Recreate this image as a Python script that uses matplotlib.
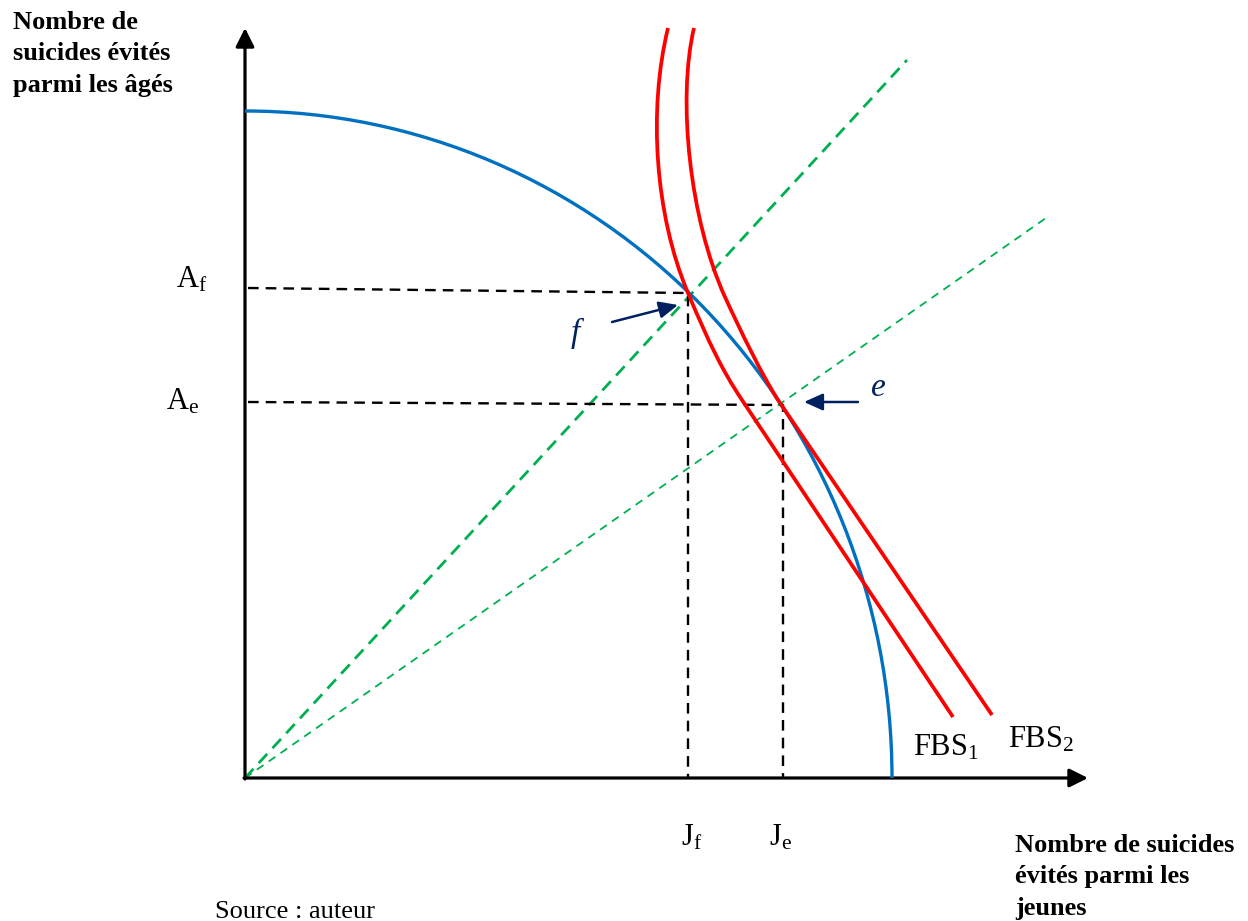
import matplotlib
matplotlib.use("Agg")
import matplotlib.pyplot as plt
from matplotlib.path import Path
from matplotlib.patches import PathPatch, Arc

# diagram geometry, in pixel units of the drawing
origin = (245, 778)
y_axis_tip = 28
x_axis_tip = 1088

# production frontier: quarter ellipse around the origin
frontier_radii = (647, 667)

# social welfare curves (bezier control points, then straight tail)
fbs1_pts = [(668, 28), (648, 110), (655, 215), (688, 293),
            (709, 343), (722, 370), (742, 400), (953, 717)]
fbs2_pts = [(694, 28), (677, 100), (690, 220), (725, 297),
            (741, 332), (762, 375), (778, 400), (992, 715)]
bezier_codes = [Path.MOVETO] + [Path.CURVE4] * 6 + [Path.LINETO]

# rays from the origin
ray_f_end = (907, 60)
ray_e_end = (1046, 218)

# optimum points and their projections
point_f = (688, 293)
point_e = (783, 405)
af_left = (248, 288)
ae_left = (248, 402)

# arrows pointing at f and e
arrow_f = [(612, 322), (678, 305)]
arrow_e = [(858, 402), (804, 402)]

plt.rcParams['font.family'] = ['Liberation Serif', 'DejaVu Serif']
plt.rcParams['mathtext.fontset'] = 'custom'
plt.rcParams['mathtext.rm'] = 'Liberation Serif'
plt.rcParams['mathtext.it'] = 'Liberation Serif:italic'

fig = plt.figure(figsize=(12.48, 9.21), dpi=100)
ax = fig.add_axes([0, 0, 1, 1])
ax.set_xlim(0, 1248)
ax.set_ylim(921, 0)
ax.axis('off')

blue = '#0070C0'
red = '#FF0000'
green = '#00B050'
navy = '#002060'

# axes with arrow heads
ax.annotate('', xy=(origin[0], y_axis_tip), xytext=(origin[0], origin[1] + 1),
            arrowprops=dict(arrowstyle='-|>', mutation_scale=28, lw=2.3, color='black',
                            shrinkA=0, shrinkB=0))
ax.annotate('', xy=(x_axis_tip, origin[1]), xytext=(origin[0] - 1, origin[1]),
            arrowprops=dict(arrowstyle='-|>', mutation_scale=28, lw=2.3, color='black',
                            shrinkA=0, shrinkB=0))

# rays
ax.plot([origin[0], ray_f_end[0]], [origin[1], ray_f_end[1]], color=green, lw=2.0,
        dashes=(4.5, 2.8), zorder=2)
ax.plot([origin[0], ray_e_end[0]], [origin[1], ray_e_end[1]], color=green, lw=1.3,
        dashes=(4.5, 3.5), zorder=2)

# dashed projections
ax.plot([af_left[0], point_f[0], point_f[0]], [af_left[1], point_f[1], origin[1]],
        color='black', lw=1.7, dashes=(4.5, 3), zorder=2)
ax.plot([ae_left[0], point_e[0], point_e[0]], [ae_left[1], point_e[1], origin[1]],
        color='black', lw=1.7, dashes=(4.5, 3), zorder=2)

# frontier
ax.add_patch(Arc(origin, 2 * frontier_radii[0], 2 * frontier_radii[1],
                 theta1=270, theta2=360, color=blue, lw=2.4, zorder=3))

# welfare curves
for pts in (fbs1_pts, fbs2_pts):
    ax.add_patch(PathPatch(Path(pts, bezier_codes), facecolor='none', edgecolor=red,
                           lw=2.7, zorder=4))

# arrows to the points
for a in (arrow_f, arrow_e):
    ax.annotate('', xy=a[1], xytext=a[0],
                arrowprops=dict(arrowstyle='-|>,head_length=0.6,head_width=0.27',
                                mutation_scale=19, lw=1.8, color=navy,
                                shrinkA=0, shrinkB=0))

# labels
serif = 22
ax.text(578, 333, r'$f$', fontsize=24, color=navy, ha='center', va='center')
ax.text(878, 388, r'$e$', fontsize=24, color=navy, ha='center', va='center')
ax.text(192, 280, r'$\mathrm{A_f}$', fontsize=serif, ha='center', va='center')
ax.text(183, 402, r'$\mathrm{A_e}$', fontsize=serif, ha='center', va='center')
ax.text(692, 838, r'$\mathrm{J_f}$', fontsize=serif, ha='center', va='center')
ax.text(781, 838, r'$\mathrm{J_e}$', fontsize=serif, ha='center', va='center')
ax.text(913, 748, r'$\mathrm{FBS_1}$', fontsize=serif, ha='left', va='center')
ax.text(1008, 740, r'$\mathrm{FBS_2}$', fontsize=serif, ha='left', va='center')

ax.text(13, 11, 'Nombre de\nsuicides évités\nparmi les âgés', fontsize=19,
        fontweight='bold', ha='left', va='top', linespacing=1.47)
ax.text(1015, 834, 'Nombre de suicides\névités parmi les\njeunes', fontsize=19,
        fontweight='bold', ha='left', va='top', linespacing=1.47)
ax.text(215, 901, 'Source : auteur', fontsize=19, ha='left', va='top')

fig.savefig('out.png', dpi=100)
